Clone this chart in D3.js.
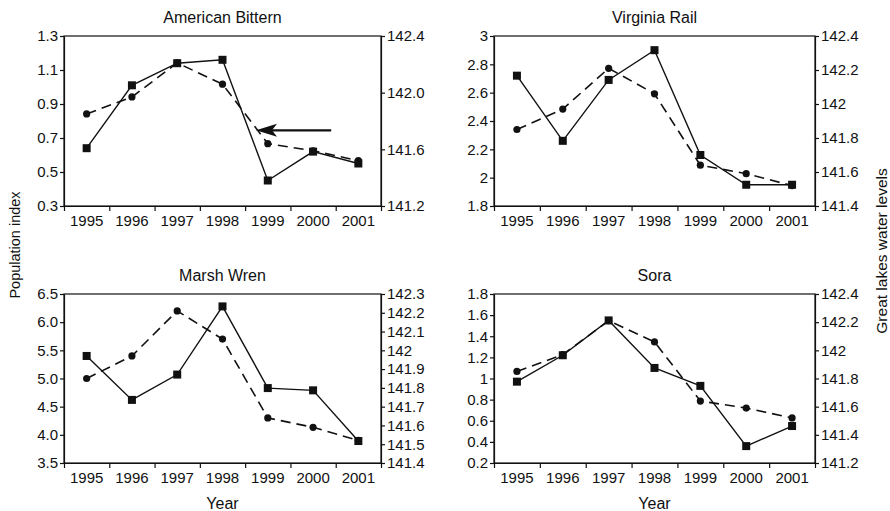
<!DOCTYPE html>
<html>
<head>
<meta charset="utf-8">
<script src="https://cdn.jsdelivr.net/npm/d3@7"></script>
<style>
  body { margin: 0; background: #fff; }
  text { font-family: "Liberation Sans", Arial, sans-serif; fill: #111; }
</style>
</head>
<body>
<script>
// data
const years = [1995, 1996, 1997, 1998, 1999, 2000, 2001];
const waterLevels = [141.85, 141.97, 142.21, 142.06, 141.64, 141.59, 141.52];

const bitternIndex = [0.64, 1.01, 1.14, 1.16, 0.45, 0.62, 0.55];
const railIndex = [2.72, 2.26, 2.69, 2.90, 2.16, 1.95, 1.95];
const wrenIndex = [5.40, 4.62, 5.07, 6.28, 4.83, 4.79, 3.89];
const soraIndex = [0.97, 1.22, 1.55, 1.10, 0.93, 0.36, 0.55];

const bitternLeftTicks = [0.3, 0.5, 0.7, 0.9, 1.1, 1.3];
const bitternRightTicks = [141.2, 141.6, 142.0, 142.4];
const railLeftTicks = [1.8, 2.0, 2.2, 2.4, 2.6, 2.8, 3.0];
const railRightTicks = [141.4, 141.6, 141.8, 142.0, 142.2, 142.4];
const wrenLeftTicks = [3.5, 4.0, 4.5, 5.0, 5.5, 6.0, 6.5];
const wrenRightTicks = [141.4, 141.5, 141.6, 141.7, 141.8, 141.9, 142.0, 142.1, 142.2, 142.3];
const soraLeftTicks = [0.2, 0.4, 0.6, 0.8, 1.0, 1.2, 1.4, 1.6, 1.8];
const soraRightTicks = [141.2, 141.4, 141.6, 141.8, 142.0, 142.2, 142.4];

const panels = [
  { title: "American Bittern", values: bitternIndex, lt: bitternLeftTicks, rt: bitternRightTicks, lf: ".1f", rf: ".1f", col: 0, row: 0, arrow: true },
  { title: "Virginia Rail", values: railIndex, lt: railLeftTicks, rt: railRightTicks, lf: "~g", rf: "~g", col: 1, row: 0 },
  { title: "Marsh Wren", values: wrenIndex, lt: wrenLeftTicks, rt: wrenRightTicks, lf: ".1f", rf: "~g", col: 0, row: 1 },
  { title: "Sora", values: soraIndex, lt: soraLeftTicks, rt: soraRightTicks, lf: "~g", rf: "~g", col: 1, row: 1 }
];

const width = 890, height = 511;
const colX = [[64, 381], [494, 815]];
const rowY = [[36, 206], [294, 463]];
const tickFont = 15;

const svg = d3.select("body").append("svg")
  .attr("width", width)
  .attr("height", height);

panels.forEach(function (p) {
  const [x0, x1] = colX[p.col];
  const [y0, y1] = rowY[p.row];
  const g = svg.append("g");

  const x = d3.scaleBand().domain(years).range([x0, x1]);
  const xEdge = d3.scaleLinear().domain([0, years.length]).range([x0, x1]);
  const yL = d3.scaleLinear().domain(d3.extent(p.lt)).range([y1, y0]);
  const yR = d3.scaleLinear().domain(d3.extent(p.rt)).range([y1, y0]);
  const cx = d => x(d) + x.bandwidth() / 2;

  // frame
  g.append("rect")
    .attr("x", x0).attr("y", y0)
    .attr("width", x1 - x0).attr("height", y1 - y0)
    .attr("fill", "none").attr("stroke", "#111").attr("stroke-width", 1.2);

  // x axis: ticks between categories, labels centred
  g.append("g")
    .attr("transform", "translate(0," + y1 + ")")
    .call(d3.axisBottom(xEdge).tickValues(d3.range(years.length + 1)).tickFormat("").tickSize(5).tickSizeOuter(0))
    .call(a => a.selectAll("line,path").attr("stroke", "#111").attr("stroke-width", 1.2));
  g.append("g")
    .attr("transform", "translate(0," + y1 + ")")
    .call(d3.axisBottom(x).tickSize(0).tickPadding(9))
    .call(a => a.select(".domain").remove())
    .call(a => a.selectAll("text").attr("font-size", tickFont).attr("font-family", null));

  g.append("g")
    .attr("transform", "translate(" + x0 + ",0)")
    .call(d3.axisLeft(yL).tickValues(p.lt).tickFormat(d3.format(p.lf)).tickSize(4).tickPadding(2).tickSizeOuter(0))
    .call(a => a.selectAll("line,path").attr("stroke", "#111").attr("stroke-width", 1.2))
    .call(a => a.selectAll("text").attr("font-size", tickFont).attr("font-family", null));

  g.append("g")
    .attr("transform", "translate(" + x1 + ",0)")
    .call(d3.axisRight(yR).tickValues(p.rt).tickFormat(d3.format(p.rf)).tickSize(4).tickPadding(2).tickSizeOuter(0))
    .call(a => a.selectAll("line,path").attr("stroke", "#111").attr("stroke-width", 1.2))
    .call(a => a.selectAll("text").attr("font-size", tickFont).attr("font-family", null));

  g.append("text")
    .attr("x", (x0 + x1) / 2).attr("y", y0 - 13)
    .attr("text-anchor", "middle")
    .attr("font-size", 16)
    .text(p.title);

  // water level: dashed with circles
  g.append("path")
    .datum(waterLevels)
    .attr("fill", "none").attr("stroke", "#111").attr("stroke-width", 1.6)
    .attr("stroke-dasharray", "10,6")
    .attr("d", d3.line().x((d, i) => cx(years[i])).y(d => yR(d)));
  g.selectAll(".dot").data(waterLevels).enter().append("circle")
    .attr("cx", (d, i) => cx(years[i])).attr("cy", d => yR(d))
    .attr("r", 3.6).attr("fill", "#111");

  // population index: solid with squares
  g.append("path")
    .datum(p.values)
    .attr("fill", "none").attr("stroke", "#111").attr("stroke-width", 1.4)
    .attr("d", d3.line().x((d, i) => cx(years[i])).y(d => yL(d)));
  g.selectAll(".sq").data(p.values).enter().append("rect")
    .attr("x", (d, i) => cx(years[i]) - 4).attr("y", d => yL(d) - 4)
    .attr("width", 8).attr("height", 8).attr("fill", "#111");

  if (p.arrow) {
    const bw = x.bandwidth();
    const tipX = cx(1999) - 0.26 * bw, tailX = cx(2000) + 0.4 * bw, ay = yL(0.745);
    g.append("line")
      .attr("x1", tipX + 14).attr("x2", tailX).attr("y1", ay).attr("y2", ay)
      .attr("stroke", "#111").attr("stroke-width", 2.2);
    g.append("path")
      .attr("d", "M" + tipX + "," + ay + "L" + (tipX + 21) + "," + (ay - 6.5) + "L" + (tipX + 16) + "," + ay + "L" + (tipX + 21) + "," + (ay + 6.5) + "Z")
      .attr("fill", "#111");
  }

  if (p.row === 1) {
    g.append("text")
      .attr("x", (x0 + x1) / 2).attr("y", y1 + 46)
      .attr("text-anchor", "middle").attr("font-size", 16)
      .text("Year");
  }
});

svg.append("text")
  .attr("transform", "translate(20,245) rotate(-90)")
  .attr("text-anchor", "middle").attr("font-size", 14.5)
  .text("Population index");

svg.append("text")
  .attr("transform", "translate(887,251) rotate(-90)")
  .attr("text-anchor", "middle").attr("font-size", 15.5)
  .text("Great lakes water levels");
</script>
</body>
</html>
